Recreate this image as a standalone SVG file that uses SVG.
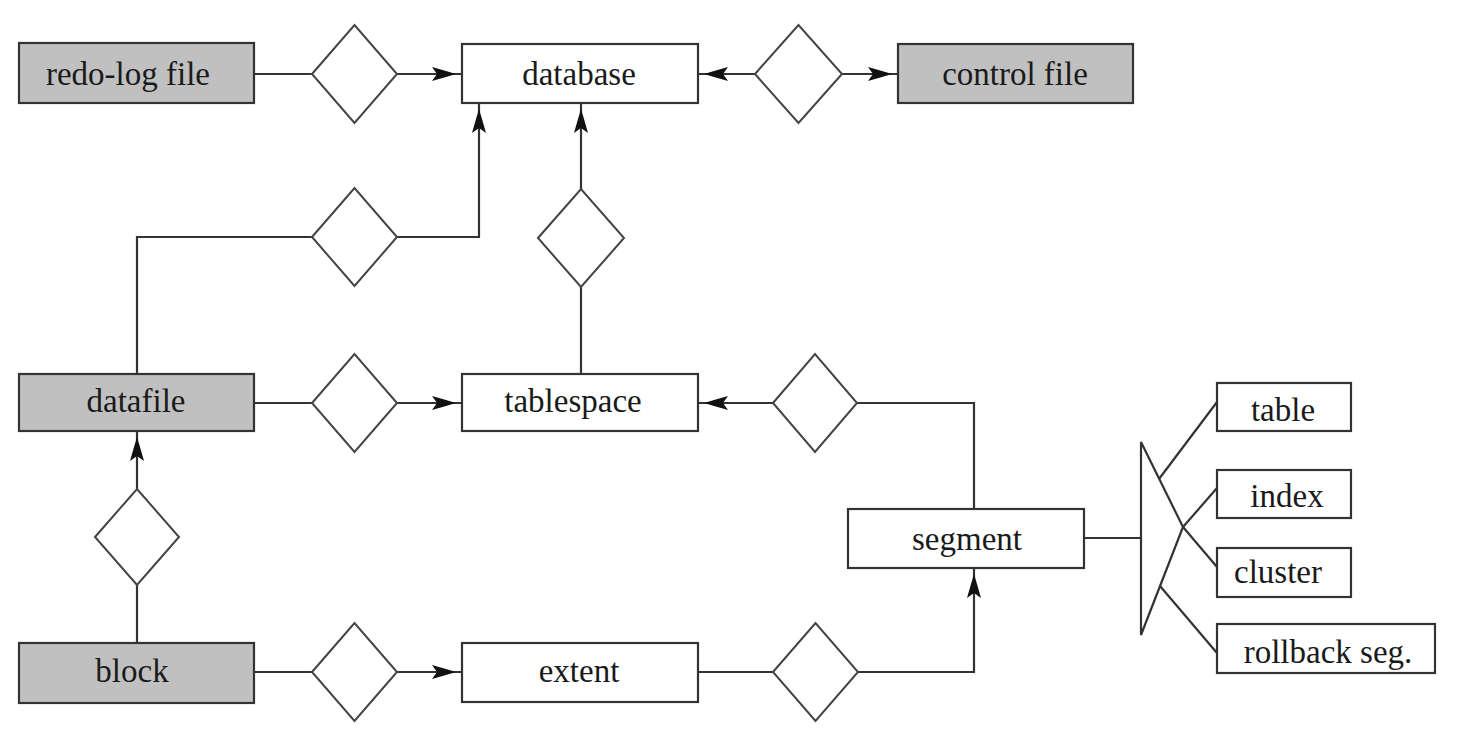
<svg xmlns="http://www.w3.org/2000/svg" width="1466" height="748" viewBox="0 0 1466 748">
<style>
.ent{fill:#ffffff;stroke:#333;stroke-width:2.2}
.weak{fill:#c0c0c0;stroke:#333;stroke-width:2.2}
.rel{fill:#ffffff;stroke:#444;stroke-width:2}
.ln{fill:none;stroke:#333;stroke-width:2.2}
.lbl{font-size:33px;fill:#1a1a1a;text-anchor:middle}
</style>
<defs>
<marker id="arr" viewBox="0 -8 32 16" markerWidth="32" markerHeight="16" refX="30" refY="0" orient="auto" markerUnits="userSpaceOnUse">
<path d="M24,0 L14,-3 L0,-7 L5,0 L0,7 L14,3 Z" fill="#111"/>
</marker>
</defs>
<rect width="1466" height="748" fill="#ffffff"/>
<g id="connectors">
<line class="ln" x1="254" y1="74" x2="312" y2="74"/>
<line class="ln" x1="397" y1="74" x2="462" y2="74" marker-end="url(#arr)"/>
<line class="ln" x1="755" y1="74" x2="698" y2="74" marker-end="url(#arr)"/>
<line class="ln" x1="842" y1="74" x2="898" y2="74" marker-end="url(#arr)"/>
<line class="ln" x1="254" y1="403" x2="312" y2="403"/>
<line class="ln" x1="397" y1="403" x2="462" y2="403" marker-end="url(#arr)"/>
<line class="ln" x1="773" y1="403" x2="698" y2="403" marker-end="url(#arr)"/>
<polyline class="ln" points="974,509 974,403 857,403"/>
<line class="ln" x1="254" y1="672" x2="312" y2="672"/>
<line class="ln" x1="397" y1="672" x2="462" y2="672" marker-end="url(#arr)"/>
<line class="ln" x1="698" y1="672" x2="773" y2="672"/>
<polyline class="ln" points="858,672 974,672 974,568" marker-end="url(#arr)"/>
<line class="ln" x1="137" y1="643" x2="137" y2="585"/>
<line class="ln" x1="137" y1="489" x2="137" y2="431" marker-end="url(#arr)"/>
<polyline class="ln" points="137,374 137,237 312,237"/>
<polyline class="ln" points="397,237 479,237 479,103" marker-end="url(#arr)"/>
<line class="ln" x1="581" y1="374" x2="581" y2="287"/>
<line class="ln" x1="581" y1="189" x2="581" y2="103" marker-end="url(#arr)"/>
<line class="ln" x1="1084" y1="538" x2="1141" y2="538"/>
<polygon class="ln" points="1141,442 1141,635 1183,527"/>
<line class="ln" x1="1159" y1="479" x2="1217" y2="402"/>
<line class="ln" x1="1183" y1="527" x2="1217" y2="488"/>
<line class="ln" x1="1183" y1="527" x2="1217" y2="567"/>
<line class="ln" x1="1160" y1="586" x2="1217" y2="653"/>
</g>
<g id="d1"><polygon class="rel" points="312,74 354.5,25 397,74 354.5,123"/></g>
<g id="d2"><polygon class="rel" points="755,74 798.5,25 842,74 798.5,123"/></g>
<g id="d3"><polygon class="rel" points="312,403 354.5,354 397,403 354.5,452"/></g>
<g id="d4"><polygon class="rel" points="773,403 815,354 857,403 815,452"/></g>
<g id="d5"><polygon class="rel" points="773,672 815.5,623 858,672 815.5,721"/></g>
<g id="d6"><polygon class="rel" points="312,672 354.5,623 397,672 354.5,721"/></g>
<g id="d7"><polygon class="rel" points="95,537 137,489 179,537 137,585"/></g>
<g id="d8"><polygon class="rel" points="312,237 354.5,188 397,237 354.5,286"/></g>
<g id="d9"><polygon class="rel" points="538,238 581,189 624,238 581,287"/></g>
<g font-family="Liberation Serif, DejaVu Serif, serif">
<g id="redo"><rect class="weak" x="19" y="43" width="235" height="60"/><text class="lbl" x="128" y="85">redo-log file</text></g>
<g id="database"><rect class="ent" x="462" y="44" width="236" height="59"/><text class="lbl" x="579" y="85">database</text></g>
<g id="control"><rect class="weak" x="898" y="44" width="235" height="59"/><text class="lbl" x="1015" y="85">control file</text></g>
<g id="datafile"><rect class="weak" x="19" y="374" width="235" height="57"/><text class="lbl" x="136" y="412">datafile</text></g>
<g id="tablespace"><rect class="ent" x="462" y="374" width="236" height="57"/><text class="lbl" x="573" y="412">tablespace</text></g>
<g id="block"><rect class="weak" x="19" y="643" width="235" height="60"/><text class="lbl" x="132" y="682">block</text></g>
<g id="extent"><rect class="ent" x="462" y="643" width="236" height="59"/><text class="lbl" x="579" y="682">extent</text></g>
<g id="segment"><rect class="ent" x="848" y="509" width="236" height="59"/><text class="lbl" x="967" y="550">segment</text></g>
<g id="table"><rect class="ent" x="1217" y="383" width="134" height="48"/><text class="lbl" x="1283" y="421">table</text></g>
<g id="index"><rect class="ent" x="1217" y="470" width="134" height="48"/><text class="lbl" x="1287" y="507">index</text></g>
<g id="cluster"><rect class="ent" x="1217" y="548" width="134" height="49"/><text class="lbl" x="1278" y="583">cluster</text></g>
<g id="rollback"><rect class="ent" x="1217" y="624" width="218" height="49"/><text class="lbl" x="1328" y="663">rollback seg.</text></g>
</g>
</svg>
